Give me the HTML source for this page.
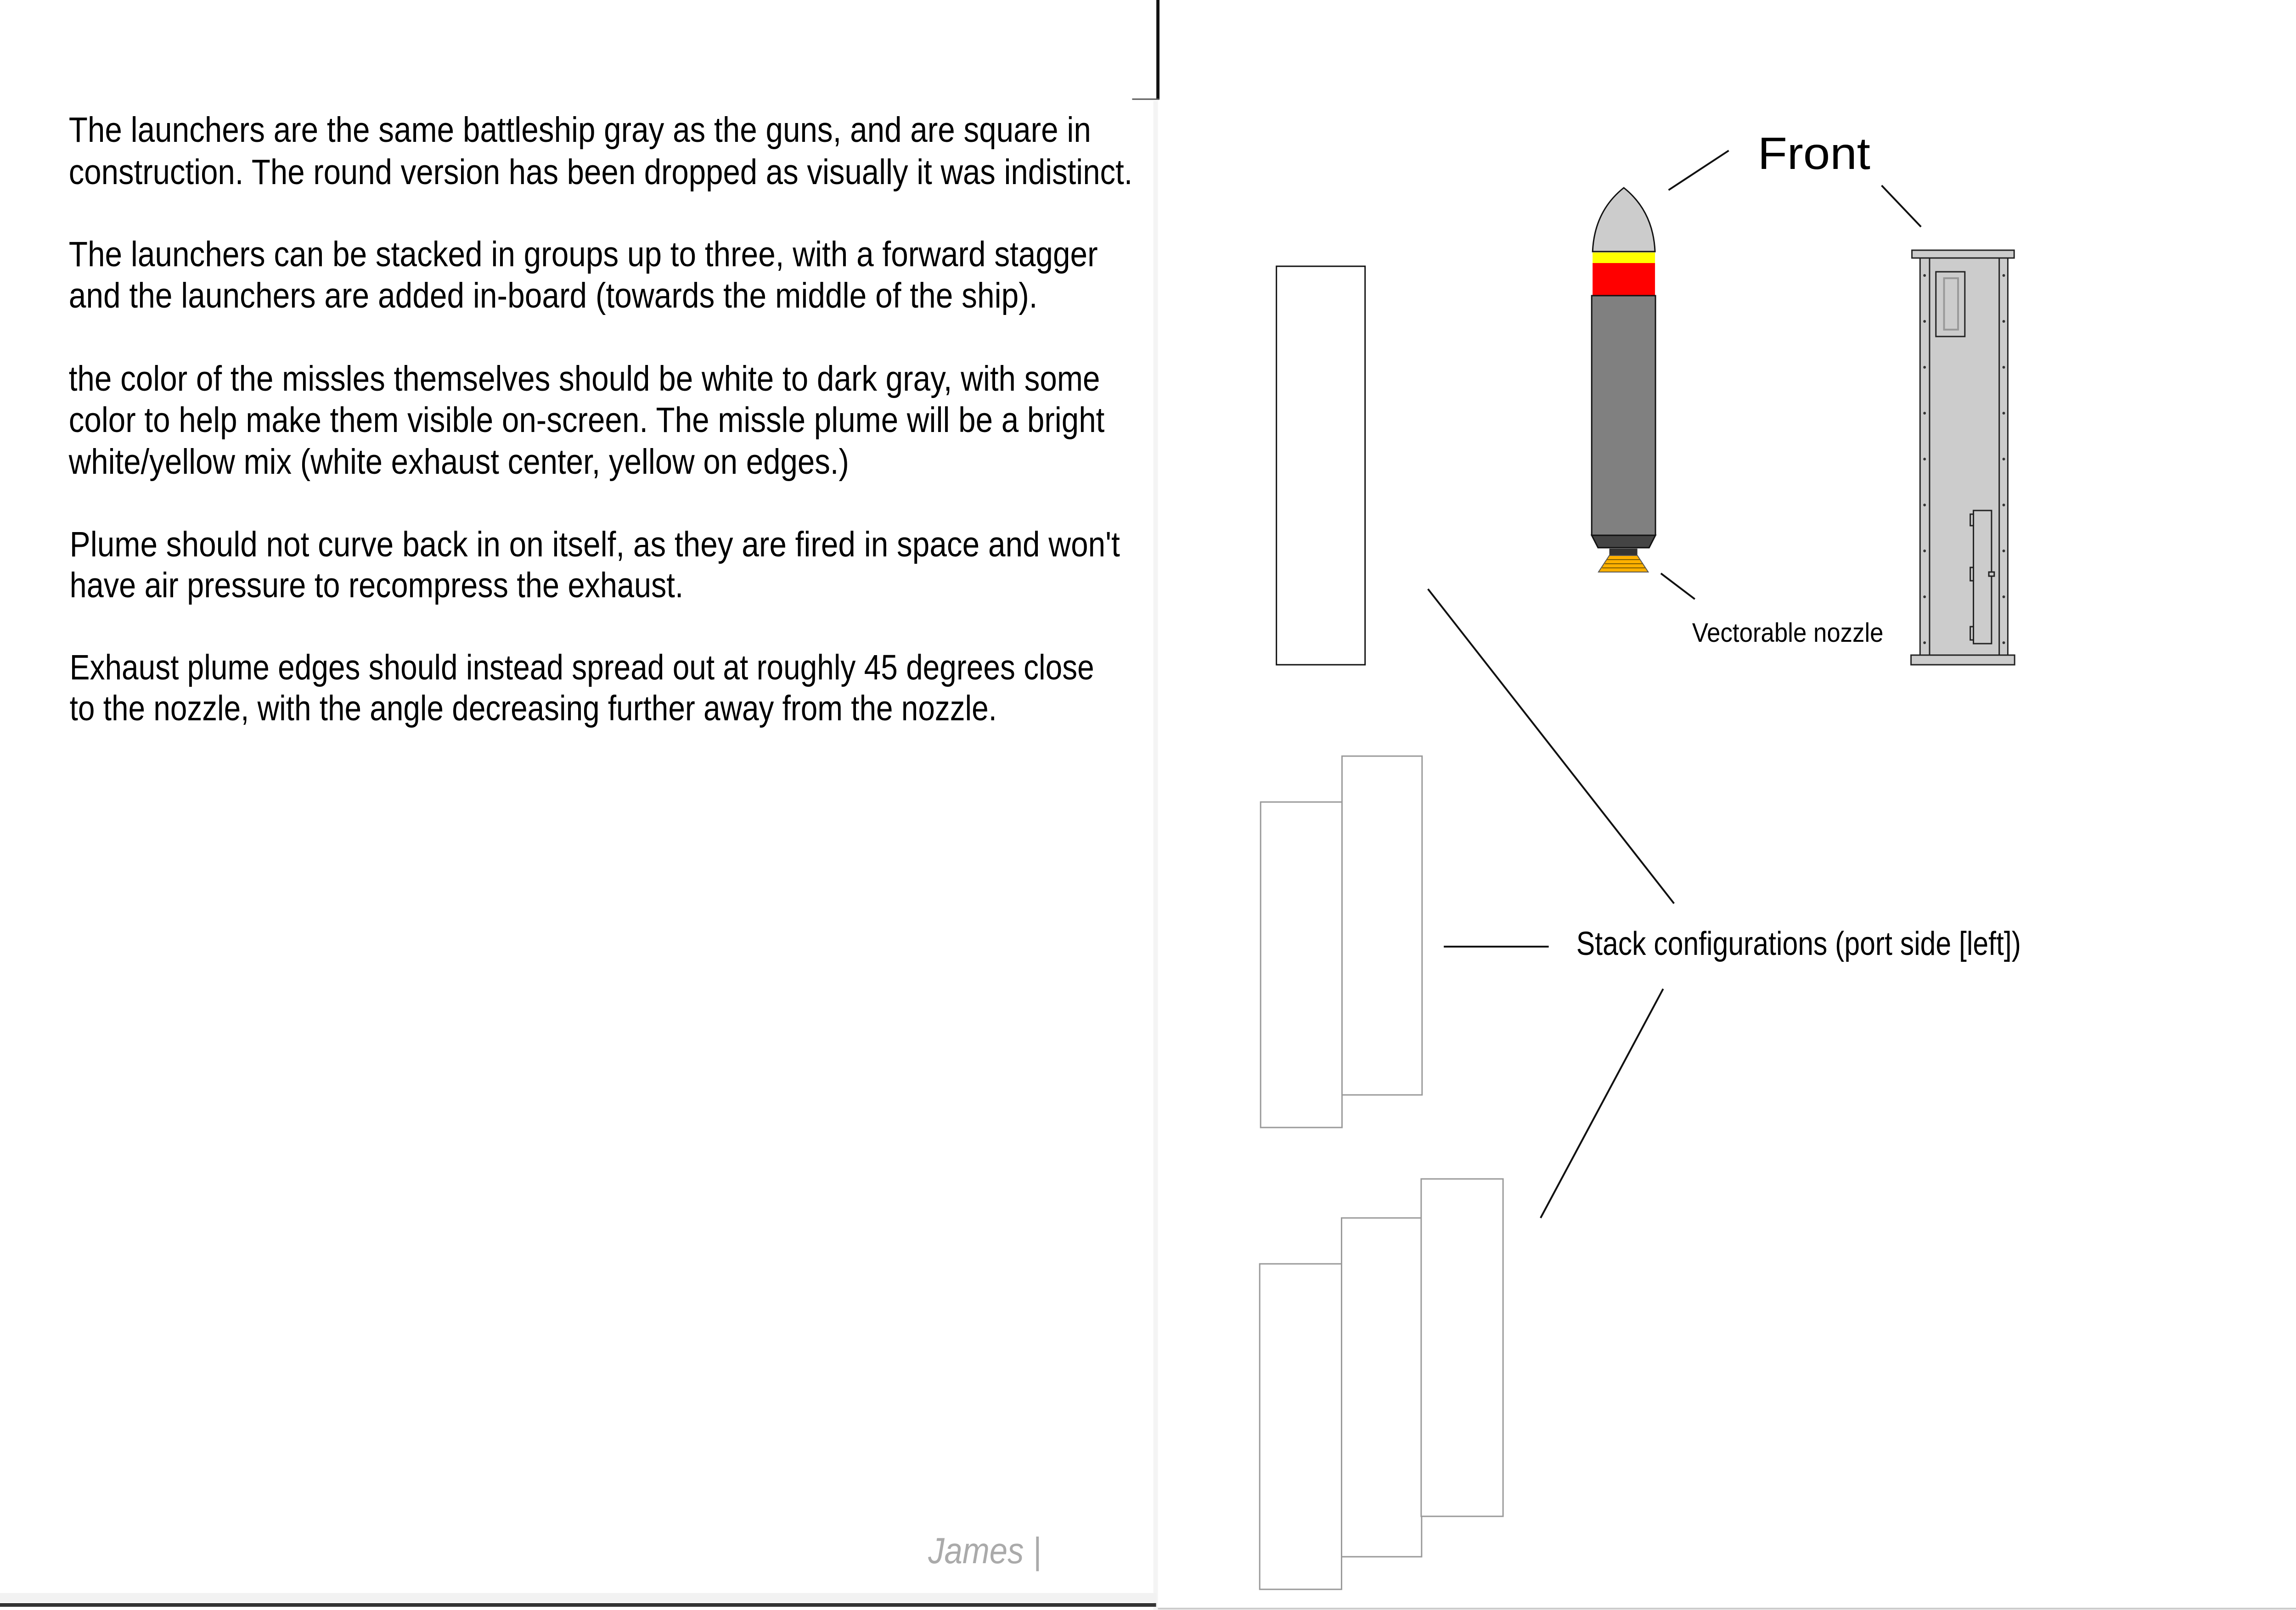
<!DOCTYPE html>
<html><head><meta charset="utf-8"><style>
html,body{margin:0;padding:0;background:#fff;}
svg{display:block;}
text{font-family:"Liberation Sans",sans-serif;fill:#000;}
</style></head><body>
<svg width="5100" height="3507" viewBox="0 0 5100 3507" xmlns="http://www.w3.org/2000/svg">
<g transform="scale(0.985,1)">
<g font-size="77">
<text x="152" y="309" textLength="2260" lengthAdjust="spacingAndGlyphs">The launchers are the same battleship gray as the guns, and are square in</text>
<text x="152" y="401" textLength="2352" lengthAdjust="spacingAndGlyphs">construction. The round version has been dropped as visually it was indistinct.</text>
<text x="152" y="580" textLength="2275" lengthAdjust="spacingAndGlyphs">The launchers can be stacked in groups up to three, with a forward stagger</text>
<text x="152" y="670" textLength="2142" lengthAdjust="spacingAndGlyphs">and the launchers are added in-board (towards the middle of the ship).</text>
<text x="152" y="851" textLength="2280" lengthAdjust="spacingAndGlyphs">the color of the missles themselves should be white to dark gray, with some</text>
<text x="152" y="941" textLength="2290" lengthAdjust="spacingAndGlyphs">color to help make them visible on-screen. The missle plume will be a bright</text>
<text x="152" y="1032" textLength="1725" lengthAdjust="spacingAndGlyphs">white/yellow mix (white exhaust center, yellow on edges.)</text>
<text x="154" y="1212" textLength="2322" lengthAdjust="spacingAndGlyphs">Plume should not curve back in on itself, as they are fired in space and won't</text>
<text x="154" y="1301" textLength="1357" lengthAdjust="spacingAndGlyphs">have air pressure to recompress the exhaust.</text>
<text x="154" y="1480" textLength="2265" lengthAdjust="spacingAndGlyphs">Exhaust plume edges should instead spread out at roughly 45 degrees close</text>
<text x="154" y="1569" textLength="2050" lengthAdjust="spacingAndGlyphs">to the nozzle, with the angle decreasing further away from the nozzle.</text>
</g>
<g>
<line x1="2560" y1="0" x2="2560" y2="217" stroke="#111" stroke-width="7"/>
<line x1="2503" y1="216" x2="2563" y2="216" stroke="#555" stroke-width="3"/>
<rect x="2550" y="220" width="10" height="3287" fill="#f4f4f4"/>
<rect x="0" y="3470" width="2556" height="20" fill="#f2f2f2"/>
<line x1="0" y1="3496" x2="2556" y2="3496" stroke="#333" stroke-width="8"/>
<line x1="2560" y1="3504" x2="5200" y2="3504" stroke="#ccc" stroke-width="4"/>
</g>
<text x="2052" y="3405" font-family="Liberation Serif,serif" font-style="italic" font-size="80" style="fill:#aaa" textLength="250" lengthAdjust="spacingAndGlyphs">James |</text>
<rect x="2822" y="580" width="196" height="868" fill="#fff" stroke="#111" stroke-width="3"/>
<g stroke="#111" stroke-width="3">
<path d="M3521 548 Q3525 460 3590 409 Q3655 460 3659 548 Z" fill="#cccccc"/>
<rect x="3521" y="550" width="138" height="23" fill="#ffff00" stroke="none"/>
<rect x="3521" y="573" width="138" height="71" fill="#ff0000" stroke="none"/>
<rect x="3519" y="644" width="141" height="522" fill="#808080"/>
<path d="M3519 1166 L3660 1166 L3646 1193 L3533 1193 Z" fill="#444"/>
<rect x="3558" y="1195" width="62" height="15" fill="#333" stroke="none"/>
<path d="M3558 1210 L3620 1210 L3644 1246 L3534 1246 Z" fill="#ffb000" stroke="#555" stroke-width="2"/>
<line x1="3553" y1="1219" x2="3625" y2="1219" stroke="#7a5a00" stroke-width="2"/>
<line x1="3548" y1="1228" x2="3631" y2="1228" stroke="#7a5a00" stroke-width="2"/>
<line x1="3542" y1="1237" x2="3637" y2="1237" stroke="#7a5a00" stroke-width="2"/>
</g>
<g stroke="#222" stroke-width="3">
<rect x="4245" y="562" width="194" height="865" fill="#cccccc"/>
<rect x="4227" y="545" width="226" height="17" fill="#cccccc"/>
<rect x="4225" y="1427" width="229" height="21" fill="#cccccc"/>
<line x1="4266" y1="562" x2="4266" y2="1427"/>
<line x1="4420" y1="562" x2="4420" y2="1427"/>
<rect x="4280" y="592" width="64" height="141" fill="#cccccc"/>
<rect x="4298" y="606" width="31" height="112" fill="none" stroke="#999" stroke-width="4"/>
<rect x="4363" y="1112" width="40" height="290" fill="#cccccc"/>
<rect x="4356" y="1120" width="7" height="25" fill="#ccc"/>
<rect x="4356" y="1236" width="7" height="29" fill="#ccc"/>
<rect x="4356" y="1365" width="7" height="29" fill="#ccc"/>
<rect x="4397" y="1246" width="12" height="9" fill="#ccc"/>
<g fill="#333" stroke="none">
<circle cx="4255" cy="600" r="3"/><circle cx="4255" cy="700" r="3"/><circle cx="4255" cy="800" r="3"/><circle cx="4255" cy="900" r="3"/><circle cx="4255" cy="1000" r="3"/><circle cx="4255" cy="1100" r="3"/><circle cx="4255" cy="1200" r="3"/><circle cx="4255" cy="1300" r="3"/><circle cx="4255" cy="1400" r="3"/>
<circle cx="4430" cy="600" r="3"/><circle cx="4430" cy="700" r="3"/><circle cx="4430" cy="800" r="3"/><circle cx="4430" cy="900" r="3"/><circle cx="4430" cy="1000" r="3"/><circle cx="4430" cy="1100" r="3"/><circle cx="4430" cy="1200" r="3"/><circle cx="4430" cy="1300" r="3"/><circle cx="4430" cy="1400" r="3"/>
</g>
</g>
<text x="3886" y="368" font-size="98" textLength="249" lengthAdjust="spacingAndGlyphs">Front</text>
<g stroke="#111" stroke-width="4">
<line x1="3689" y1="414" x2="3822" y2="328"/>
<line x1="4160" y1="404" x2="4247" y2="494"/>
<line x1="3672" y1="1249" x2="3747" y2="1305"/>
<line x1="3157" y1="1283" x2="3701" y2="1968"/>
<line x1="3192" y1="2062" x2="3424" y2="2062"/>
<line x1="3677" y1="2154" x2="3406" y2="2653"/>
</g>
<text x="3741" y="1398" font-size="58" textLength="423" lengthAdjust="spacingAndGlyphs">Vectorable nozzle</text>
<text x="3485" y="2080" font-size="72" textLength="983" lengthAdjust="spacingAndGlyphs">Stack configurations (port side [left])</text>
<g fill="#fff" stroke="#999" stroke-width="3">
<rect x="2787" y="1747" width="180" height="709"/>
<rect x="2967" y="1647" width="177" height="738"/>
</g>
<g fill="#fff" stroke="#999" stroke-width="3">
<rect x="2785" y="2753" width="181" height="709"/>
<rect x="2966" y="2653" width="177" height="738"/>
<rect x="3142" y="2568" width="181" height="735"/>
</g>
</g>
</svg>
</body></html>
